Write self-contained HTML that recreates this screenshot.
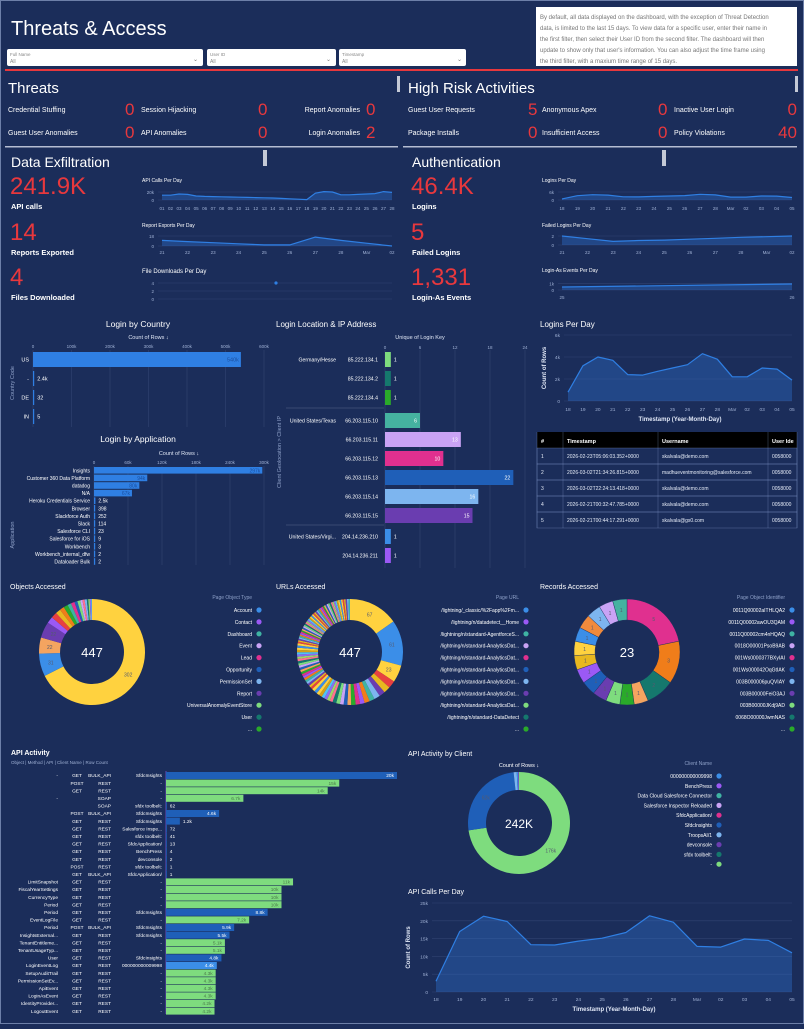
<!DOCTYPE html>
<html><head><meta charset="utf-8">
<style>
html,body{margin:0;padding:0;background:#1b2d5a;}
body{width:804px;height:1024px;overflow:hidden;font-family:"Liberation Sans",sans-serif;}
svg text{font-family:"Liberation Sans",sans-serif;}
</style></head>
<body>
<svg id="s" width="804" height="1024" viewBox="0 0 804 1024" xmlns="http://www.w3.org/2000/svg">
<rect x="0" y="0" width="804" height="1024" fill="#1b2d5a"/>
<rect x="0.5" y="0.5" width="803" height="1023" fill="none" stroke="#6d7fa8"/>
<text x="11" y="35" font-size="20" fill="#fff">Threats &amp; Access</text>
<g><rect x="7" y="49" width="196" height="17" rx="2" fill="#fff"/><text x="10" y="56" font-size="4.5" fill="#888">Full Name</text><text x="10" y="63" font-size="5" fill="#888">All</text><text x="193" y="61" font-size="6" fill="#777">⌄</text></g>
<g><rect x="207" y="49" width="129" height="17" rx="2" fill="#fff"/><text x="210" y="56" font-size="4.5" fill="#888">User ID</text><text x="210" y="63" font-size="5" fill="#888">All</text><text x="326" y="61" font-size="6" fill="#777">⌄</text></g>
<g><rect x="339" y="49" width="127" height="17" rx="2" fill="#fff"/><text x="342" y="56" font-size="4.5" fill="#888">Timestamp</text><text x="342" y="63" font-size="5" fill="#888">All</text><text x="457" y="61" font-size="6" fill="#777">⌄</text></g>
<g><rect x="536" y="7" width="261" height="59" fill="#fff"/>
<text font-size="6" fill="#777"><tspan x="540" y="19">By default, all data displayed on the dashboard, with the exception of Threat Detection</tspan><tspan x="540" y="30">data, is limited to the last 15 days. To view data for a specific user, enter their name in</tspan><tspan x="540" y="41">the first filter, then select their User ID from the second filter. The dashboard will then</tspan><tspan x="540" y="52">update to show only that user's information. You can also adjust the time frame using</tspan><tspan x="540" y="63">the third filter, with a maxium time range of 15 days.</tspan></text></g>
<rect x="5" y="69" width="793" height="2" fill="#e8383d"/>
<text x="8" y="93" font-size="15" fill="#fff">Threats</text>
<rect x="397" y="76" width="3" height="16" fill="#c4c9d6"/>
<text x="408" y="93" font-size="15" fill="#fff">High Risk Activities</text>
<rect x="795" y="76" width="3" height="16" fill="#c4c9d6"/>
<g id="metrics"></g>
<rect x="5" y="146" width="393" height="1.5" fill="#b5bdd2"/>
<rect x="403" y="146" width="394" height="1.5" fill="#b5bdd2"/>
<text x="11" y="167" font-size="14" fill="#fff">Data Exfiltration</text>
<rect x="263" y="150" width="4" height="16" fill="#c4c9d6"/>
<text x="412" y="167" font-size="14" fill="#fff">Authentication</text>
<rect x="662" y="150" width="4" height="16" fill="#c4c9d6"/>
<g id="kpis"></g>
<g id="charts"></g>
</svg>
<script>
// ===== data =====
const threatLabels=["Credential Stuffing","Session Hijacking","Report Anomalies","Guest User Anomalies","API Anomalies","Login Anomalies"];
const threatValues=[0,0,0,0,0,2];
const riskLabels=["Guest User Requests","Anonymous Apex","Inactive User Login","Package Installs","Insufficient Access","Policy Violations"];
const riskValues=[5,0,0,0,0,40];
const kpiValues=["241.9K","14","4","46.4K","5","1,331"];
const kpiLabels=["API calls","Reports Exported","Files Downloaded","Logins","Failed Logins","Login-As Events"];

const apiDays=["01","02","03","04","05","06","07","08","09","10","11","12","13","14","15","16","17","18","19","20","21","22","23","24","25","26","27","28"];
const apiDayValues=[12,12,15,14,10,9,8.5,8,7.5,7,6.5,6,5.5,5,4,3,2,1,17,21,20,13,13,14,15,16,21,19];
const exportDays=["21","22","23","24","25","26","27","28","Mar","02"];
const exportValues=[10,8,6,4,2,2,16,10,5,0];
const downloadDays=["a"];
const downloadValues=[4];
const loginDays=["18","19","20","21","22","23","24","25","26","27","28","Mar","02","03","04","05"];
const loginValues=[0.8,3.2,4.0,3.7,2.4,2.35,2.7,3.0,3.3,4.3,3.8,2.2,2.2,3.0,2.9,1.9];
const failedDays=["21","22","23","24","25","26","27","28","Mar","02"];
const failedValues=[2,1.4,0.8,1,1.1,1.3,1.5,1.7,1.85,2];
const loginAsDays=["25","26"];
const loginAsValues=[0.45,0.9];

const countries=["US","-","DE","IN"];
const countryValues=[540000,2400,32,5];
const countryPrinted=["540k","2.4k","32","5"];
const countryTicks=["0","100k","200k","300k","400k","500k","600k"];

const apps=["Insights","Customer 360 Data Platform","datadog","N/A","Heroku Credentials Service","Browser","Slackforce Auth","Slack","Salesforce CLI","Salesforce for iOS","Workbench","Workbench_internal_dfw","Dataloader Bulk"];
const appValues=[297000,94000,80000,67000,2500,398,252,114,23,9,3,2,2];
const appPrinted=["297k","94k","80k","67k","2.5k","398","252","114","23","9","3","2","2"];
const appTicks=["0","60k","120k","180k","240k","300k"];

const ipGroups=["Germany/Hesse","","","United States/Texas","","","","","","United States/Virgi...",""];
const ips=["85.222.134.1","85.222.134.2","85.222.134.4","66.203.115.10","66.203.115.11","66.203.115.12","66.203.115.13","66.203.115.14","66.203.115.15","204.14.236.210","204.14.236.211"];
const ipValues=[1,1,1,6,13,10,22,16,15,1,1];
const ipTicks=[0,6,12,18,24];

const objLabels=["Account","Contact","Dashboard","Event","Lead","Opportunity","PermissionSet","Report","UniversalAnomalyEventStore","User","..."];
const objValues=[302,31,22,22,9,8,7,6,6,5,5,4,4,3,3,3,2,2,2,1];
const urlLabels=["/lightning/_classic/%2Fapp%2Fm...","/lightning/n/datadetect__Home","/lightning/n/standard-AgentforceS...","/lightning/n/standard-AnalyticsDat...","/lightning/n/standard-AnalyticsDat...","/lightning/n/standard-AnalyticsDat...","/lightning/n/standard-AnalyticsDat...","/lightning/n/standard-AnalyticsDat...","/lightning/n/standard-AnalyticsDat...","/lightning/n/standard-DataDetect","..."];
const urlValues=[67,61,23,10,9,8,8,7,7,6,6,6,5,5,5,5,5,4,4,4,4,4,4,4,4,3,3,3,3,3,3,3,3,3,3,3,3,3,3,3,3,3,3,3,3,3,3,2,2,2,2,2,2,2,2,2,2,2,2,2,2,2,2,2,2,2,2,2,2,2,2,2,2,2,2,2,2,2,2,2,2,2,2,2,2,2,2,2,2,2,2,2,2,2,2,2];
const recLabels=["0011Q00002aITHLQA2","0011Q00002awOU3QAM","0011Q00002cm4nHQAQ","0018O00001PsoB9AB","001Ws0000377BXyIAI","001Ws000042OqGtIAK","003B000006puQVIAY","003B00000FeiO3AJ","003B00000JKdj9AD","0068O00000JwmNAS","..."];
const recValues=[5,3,2,1,1,1,1,1,1,1,1,1,1,1,1];
const clientLabels=["000000000009998","BenchPress","Data Cloud Salesforce Connector","Salesforce Inspector Reloaded","SfdcApplication/","SfdcInsights","TroopsAI/1","devconsole","sfdx toolbelt:","-"];
const clientValues=[176,62,2.4,1.2,0.3,0.2];
const clientPrinted=["176k","62k","","","",""];

const actObjects=["-","","","-","","","","","","","","","","","LimitSnapshot","FiscalYearSettings","CurrencyType","Period","Period","EventLogFile","Period","InsightsExternal...","TenantEntitleme...","TenantUsageTyp...","User","LoginEventLog","SetupAuditTrail","PermissionSetEv...","ApiEvent","LoginAsEvent","IdentityProvider...","LogoutEvent"];
const actMethods=["GET","POST","GET","","","POST","GET","GET","GET","GET","GET","GET","POST","GET","GET","GET","GET","GET","GET","GET","POST","GET","GET","GET","GET","GET","GET","GET","GET","GET","GET","GET"];
const actApis=["BULK_API","REST","REST","SOAP","SOAP","BULK_API","REST","REST","REST","REST","REST","REST","REST","BULK_API","REST","REST","REST","REST","REST","REST","BULK_API","REST","REST","REST","REST","REST","REST","REST","REST","REST","REST","REST"];
const actClients=["SfdcInsights","-","-","-","sfdx toolbelt:","SfdcInsights","SfdcInsights","Salesforce Inspe...","sfdx toolbelt:","SfdcApplication/","BenchPress","devconsole","sfdx toolbelt:","SfdcApplication/","-","-","-","-","SfdcInsights","-","SfdcInsights","SfdcInsights","-","-","SfdcInsights","000000000009998","-","-","-","-","-","-"];
const actValues=[20000,15000,14000,6700,62,4600,1200,72,41,13,4,2,1,1,11000,10000,10000,10000,8800,7200,5900,5500,5100,5100,4800,4400,4300,4300,4300,4300,4200,4200];
const actPrinted=["20k","15k","14k","6.7k","62","4.6k","1.2k","72","41","13","4","2","1","1","11k","10k","10k","10k","8.8k","7.2k","5.9k","5.5k","5.1k","5.1k","4.8k","4.4k","4.3k","4.3k","4.3k","4.3k","4.2k","4.2k"];

const dailyDays=["18","19","20","21","22","23","24","25","26","27","28","Mar","02","03","04","05"];
const dailyValues=[3,17,21.3,19.8,13.3,13.2,14.3,15.1,16.7,21.4,19.6,12.8,12.6,14.9,14.5,11];
const dailyTicks=[0,5,10,15,20,25];

const tableRows=[["1","2026-02-23T05:06:03.352+0000","skalvala@demo.com","0058000"],["2","2026-03-02T21:34:26.815+0000","madhueventmonitoring@salesforce.com","0058000"],["3","2026-03-02T22:24:13.418+0000","skalvala@demo.com","0058000"],["4","2026-02-21T00:32:47.785+0000","skalvala@demo.com","0058000"],["5","2026-02-21T00:44:17.291+0000","skalvala@gs0.com","0058000"]];

// ===== helpers =====
const NS="http://www.w3.org/2000/svg";
function mk(parent,tag,attrs,name,inter){
  const el=document.createElementNS(NS,tag);
  for(const k in attrs) el.setAttribute(k,attrs[k]);
  
  
  parent.appendChild(el);return el;
}
function T(p,x,y,s,size,fill,anchor,name,weight){
  const t=mk(p,'text',{x:x,y:y,'font-size':size,fill:fill||'#fff','text-anchor':anchor||'start','font-weight':weight||'normal'},name||'label',false);
  t.textContent=s;return t;
}
const charts=document.getElementById('charts');
const TICK='#9fb0d4', GRID='rgba(150,170,220,0.18)', LINE='#2f7fe3', AREA='rgba(50,120,220,0.35)';
const PAL=['#3b8ee8','#9b59f5','#3fb3a3','#c9a3f5','#e0308f','#1f5fb8','#7db5ef','#6a3db0','#7edc7e','#15786d','#2aaa2a','#ffd23f','#f4a460','#e84040','#f07d1a','#e8b820','#4fc3f7','#ff6f91','#a0d468','#8e6cf0'];

// metrics
const mg=document.getElementById('metrics');
const tLX=[8,141,360],tVX=[125,258,366],tAn=['start','start','end'];
threatLabels.forEach((l,i)=>{const r=Math.floor(i/3),c=i%3,y=r?135:112;
  T(mg,tLX[c],y,l,7,'#fff',tAn[c],'threat-metric-label');
  T(mg,tVX[c],y+3,threatValues[i],17,'#e8383d','start','threat-metric-value');});
const hLX=[408,542,674],hVX=[528,658,797];
riskLabels.forEach((l,i)=>{const r=Math.floor(i/3),c=i%3,y=r?135:112;
  T(mg,hLX[c],y,l,7,'#fff','start','risk-metric-label');
  T(mg,hVX[c],y+3,riskValues[i],17,'#e8383d',c==2?'end':'start','risk-metric-value');});

// kpis
const kg=document.getElementById('kpis');
kpiValues.forEach((v,i)=>{const x=i<3?10:411,y=[194,240,285][i%3];
  T(kg,x,y,v,24,'#e8383d','start','kpi-value');
  T(kg,x+1,y+15,kpiLabels[i],7.5,'#fff','start','kpi-label','bold');});

// sparkline/area chart
function area(cfg){
  const g=mk(charts,'g',{},cfg.name,false);
  if(cfg.title) T(g,cfg.x0,cfg.ty,cfg.title,cfg.tsize||5,'#fff','start',cfg.name+'-title');
  const n=cfg.labels.length;
  const xs=i=> n==1? (cfg.x0+cfg.x1)/2 : cfg.px0+(cfg.px1-cfg.px0)*i/(n-1);
  const ys=v=> cfg.y0-(cfg.y0-cfg.y1)*v/cfg.max;
  cfg.ticks.forEach((t,i)=>{const y=ys(cfg.tickVals[i]);
    mk(g,'line',{x1:cfg.px0-4,x2:cfg.px1,y1:y,y2:y,stroke:GRID,'stroke-width':0.6},'gridline',false);
    T(g,cfg.px0-8,y+2,t,cfg.fs||4.5,TICK,'end','y-tick');});
  if(cfg.dot){cfg.values.forEach((v,i)=>mk(g,'circle',{cx:cfg.dotX,cy:ys(v),r:1.6,fill:LINE},'data-point',false));return g;}
  let d='';cfg.values.forEach((v,i)=>{d+=(i?'L':'M')+xs(i).toFixed(1)+','+ys(v).toFixed(1);});
  mk(g,'path',{d:d+'L'+xs(n-1)+','+cfg.y0+'L'+xs(0)+','+cfg.y0+'Z',fill:AREA},'area-fill',false);
  mk(g,'path',{d:d,fill:'none',stroke:LINE,'stroke-width':cfg.lw||1.2,'stroke-linejoin':'round'},'series-line',false);
  cfg.labels.forEach((l,i)=>T(g,xs(i),cfg.ly,l,cfg.fs||4.5,TICK,'middle','x-tick'));
  if(cfg.xtitle) T(g,(cfg.px0+cfg.px1)/2,cfg.xty,cfg.xtitle,6,'#dfe6f5','middle','x-axis-title','bold');
  if(cfg.ytitle){const t=T(g,0,0,cfg.ytitle,6,'#dfe6f5','middle','y-axis-title','bold');t.setAttribute('transform','translate('+cfg.ytx+','+(cfg.y0+cfg.y1)/2+') rotate(-90)');}
  return g;
}
area({name:'api-calls-sparkline',title:'API Calls Per Day',x0:142,ty:182,labels:apiDays,values:apiDayValues,px0:162,px1:392,y0:200,y1:192,max:20,ticks:['20k','0'],tickVals:[20,0],ly:210});
area({name:'report-exports-sparkline',title:'Report Exports Per Day',x0:142,ty:227,labels:exportDays,values:exportValues,px0:162,px1:392,y0:246,y1:236,max:18,ticks:['18','0'],tickVals:[18,0],ly:254});
area({name:'file-downloads-sparkline',title:'File Downloads Per Day',tsize:6,x0:142,ty:273,labels:downloadDays,values:downloadValues,px0:162,px1:392,y0:299,y1:283,max:4,ticks:['4','2','0'],tickVals:[4,2,0],dot:true,dotX:276});
area({name:'logins-sparkline',title:'Logins Per Day',x0:542,ty:182,labels:loginDays,values:loginValues,px0:562,px1:792,y0:200,y1:192,max:6,ticks:['6k','0'],tickVals:[6,0],ly:210});
area({name:'failed-logins-sparkline',title:'Failed Logins Per Day',x0:542,ty:227,labels:failedDays,values:failedValues,px0:562,px1:792,y0:245,y1:236,max:2,ticks:['2','0'],tickVals:[2,0],ly:254});
area({name:'login-as-sparkline',title:'Login-As Events Per Day',x0:542,ty:272,labels:loginAsDays,values:loginAsValues,px0:562,px1:792,y0:290,y1:282,max:1.2,ticks:['1k','0'],tickVals:[1,0],ly:299});

// horizontal bar chart
function hbar(cfg){
  const g=mk(charts,'g',{},cfg.name,false);
  T(g,cfg.tx,cfg.ty,cfg.title,8.5,'#fff','middle',cfg.name+'-title');
  T(g,(cfg.px0+cfg.px1)/2,cfg.cy,'Count of Rows ↓',5.5,'#dfe6f5','middle','axis-title');
  const xs=v=>cfg.px0+(cfg.px1-cfg.px0)*v/cfg.max;
  cfg.ticks.forEach((t,i)=>{const x=cfg.px0+(cfg.px1-cfg.px0)*i/(cfg.ticks.length-1);
    mk(g,'line',{x1:x,x2:x,y1:cfg.gy0,y2:cfg.gy1,stroke:GRID,'stroke-width':0.6},'gridline',false);
    T(g,x,cfg.tky,t,4.5,TICK,'middle','x-tick');});
  cfg.cats.forEach((c,i)=>{const y=cfg.by+i*cfg.step,w=Math.max(xs(cfg.vals[i])-cfg.px0,1.2);
    T(g,cfg.px0-4,y+cfg.bh/2+2,c,cfg.fs,'#fff','end','category-label');
    mk(g,'rect',{x:cfg.px0,y:y,width:w,height:cfg.bh,fill:'#2f7fe3'},'bar-'+c,true);
    const inside=w>30;
    T(g,inside?cfg.px0+w-2:cfg.px0+w+3,y+cfg.bh/2+2,cfg.printed[i],cfg.fs,inside?'#1b4fa0':'#fff',inside?'end':'start','bar-value');});
  const t=T(g,0,0,cfg.ytitle,5.5,'#8ea0c8','middle','y-axis-title');t.setAttribute('transform','translate('+cfg.ytx+','+cfg.yty+') rotate(-90)');
}
hbar({name:'login-by-country',title:'Login by Country',tx:138,ty:327,cy:339,cats:countries,vals:countryValues,printed:countryPrinted,ticks:countryTicks,max:600000,px0:33,px1:264,tky:348,gy0:350,gy1:427,by:352,step:19,bh:15,fs:5.5,ytitle:'Country Code',ytx:14,yty:383});
hbar({name:'login-by-application',title:'Login by Application',tx:138,ty:442,cy:455,cats:apps,vals:appValues,printed:appPrinted,ticks:appTicks,max:300000,px0:94,px1:264,tky:464,gy0:466,gy1:565,by:467,step:7.6,bh:6.6,fs:5,ytitle:'Application',ytx:14,yty:535});

// login location & IP
(function(){
  const g=mk(charts,'g',{},'login-location-ip-chart',false);
  T(g,276,327,'Login Location & IP Address',8,'#fff','start','login-location-title');
  T(g,420,339,'Unique of Login Key',5.5,'#dfe6f5','middle','axis-title');
  const px0=385,px1=525,xs=v=>px0+(px1-px0)*v/24;
  ipTicks.forEach(t=>{mk(g,'line',{x1:xs(t),x2:xs(t),y1:350,y2:568,stroke:GRID,'stroke-width':0.6},'gridline',false);
    T(g,xs(t),349,t,4.5,TICK,'middle','x-tick');});
  const ys=[352,371,390,413,432,451,470,489,508,529,548];
  const cols=['#7edc7e','#15786d','#2aaa2a','#45b2a0','#c9a3f5','#e0308f','#1f5fb8','#7db5ef','#6a3db0','#3b8ee8','#9b59f5'];
  [408,525].forEach(y=>mk(g,'line',{x1:286,x2:384,y1:y,y2:y,stroke:'rgba(200,210,235,0.35)','stroke-width':0.6},'group-separator',false));
  ips.forEach((ip,i)=>{const y=ys[i],w=xs(ipValues[i])-px0;
    if(ipGroups[i]) T(g,336,y+9.5,ipGroups[i],5.2,'#fff','end','group-label');
    T(g,378,y+9.5,ip,5.2,'#fff','end','ip-label');
    mk(g,'rect',{x:px0,y:y,width:w,height:15,fill:cols[i]},'bar-'+ip,true);
    const inside=w>15;
    T(g,inside?px0+w-3:px0+w+3,y+9.5,ipValues[i],5.2,inside?'#fff':'#fff',inside?'end':'start','bar-value');});
  const t=T(g,0,0,'Client Geolocation > Client IP',5.5,'#8ea0c8','middle','y-axis-title');t.setAttribute('transform','translate(281,452) rotate(-90)');
})();

// logins per day
T(charts,540,327,'Logins Per Day',8,'#fff','start','logins-per-day-title');
area({name:'logins-per-day-chart',labels:loginDays,values:loginValues,px0:568,px1:792,y0:401,y1:335,max:6,ticks:['6k','4k','2k','0'],tickVals:[6,4,2,0],ly:411,fs:4.8,xtitle:'Timestamp (Year-Month-Day)',xty:421,ytitle:'Count of Rows',ytx:546,lw:1.2});

// table
(function(){
  const g=mk(charts,'g',{},'login-events-table',false);
  const cx=[537,563,658,768,797];
  mk(g,'rect',{x:537,y:432,width:260,height:16,fill:'#000'},'table-header',false);
  ['#','Timestamp','Username','User Ide'].forEach((h,i)=>T(g,cx[i]+4,443,h,5.5,'#fff','start','column-header','bold'));
  tableRows.forEach((r,j)=>{const y=448+j*16;
    mk(g,'rect',{x:537,y:y,width:260,height:16,fill:'none',stroke:'rgba(140,160,210,0.45)','stroke-width':0.6},'table-row',true);
    r.forEach((c,i)=>T(g,cx[i]+4,y+10,c,5,'#e6ecf8','start','table-cell'));});
  cx.forEach(x=>mk(g,'line',{x1:x,x2:x,y1:432,y2:528,stroke:'rgba(140,160,210,0.45)','stroke-width':0.6},'column-divider',false));
})();

// donuts
function donut(cfg){
  const g=mk(charts,'g',{},cfg.name,false);
  if(cfg.title) T(g,cfg.tx,cfg.ty,cfg.title,7,'#fff','start',cfg.name+'-title');
  const tot=cfg.values.reduce((a,b)=>a+b,0);let a0=0;
  cfg.values.forEach((v,i)=>{const a1=a0+v/tot*Math.PI*2;
    const P=(r,a)=>[cfg.cx+r*Math.sin(a),cfg.cy-r*Math.cos(a)];
    const [x1,y1]=P(cfg.R,a0),[x2,y2]=P(cfg.R,a1),[x3,y3]=P(cfg.r,a1),[x4,y4]=P(cfg.r,a0);
    const lg=(a1-a0)>Math.PI?1:0;
    mk(g,'path',{d:`M${x1},${y1}A${cfg.R},${cfg.R} 0 ${lg} 1 ${x2},${y2}L${x3},${y3}A${cfg.r},${cfg.r} 0 ${lg} 0 ${x4},${y4}Z`,fill:cfg.colors[i%cfg.colors.length],stroke:cfg.sep||'none','stroke-width':0.4},'slice',true);
    const lbl=cfg.printed?cfg.printed[i]:(v/tot>0.04?String(v):'');
    if(lbl){const am=(a0+a1)/2,rm=(cfg.R+cfg.r)/2;const [lx,ly]=P(rm,am);T(g,lx,ly+2,lbl,5,'#555a70','middle','slice-label');}
    a0=a1;});
  T(g,cfg.cx,cfg.cy+5,cfg.center,cfg.csize||13,'#fff','middle','donut-total');
  if(cfg.legendTitle) T(g,cfg.lx,cfg.ly-11,cfg.legendTitle,5,'#8ea0c8','end','legend-title');
  cfg.legend.forEach((l,i)=>{const y=cfg.ly+i*cfg.lstep;
    T(g,cfg.lx,y+2,l,5,'#fff','end','legend-entry');
    mk(g,'circle',{cx:cfg.lx+7,cy:y,r:2.6,fill:cfg.lcolors[i%cfg.lcolors.length]},'legend-swatch',true);});
}
const LC=['#3b8ee8','#9b59f5','#3fb3a3','#c9a3f5','#e0308f','#1f5fb8','#7db5ef','#6a3db0','#7edc7e','#15786d','#2aaa2a'];
const objCols=['#ffd23f','#3b8ee8','#f4a460','#6a3db0','#9b59f5','#e84040','#e8b820','#f07d1a','#2aaa2a','#3fb3a3','#e0308f','#1f5fb8','#7edc7e','#c9a3f5','#ff6f91','#7db5ef','#15786d','#a0d468','#8e6cf0','#4fc3f7'];
donut({name:'objects-accessed-donut',title:'Objects Accessed',tx:10,ty:589,cx:92,cy:652,R:53,r:32,values:objValues,colors:objCols,center:'447',legendTitle:'Page Object Type',legend:objLabels,lcolors:LC,lx:252,ly:610,lstep:11.9});
const urlCols=['#ffd23f','#3b8ee8','#ffd23f','#e84040','#e8b820','#6a3db0','#7db5ef','#3fb3a3','#f07d1a','#9b59f5','#e0308f','#2aaa2a','#f4a460','#1f5fb8','#c9a3f5','#7edc7e','#15786d','#ff6f91','#a0d468','#8e6cf0','#4fc3f7','#d4a017'];
donut({name:'urls-accessed-donut',title:'URLs Accessed',tx:276,ty:589,cx:350,cy:652,R:53,r:32,values:urlValues,colors:urlCols,center:'447',legendTitle:'Page URL',legend:urlLabels,lcolors:LC,lx:519,ly:610,lstep:11.9});
const recCols=['#e0308f','#f07d1a','#15786d','#f4a460','#2aaa2a','#7edc7e','#6a3db0','#1f5fb8','#9b59f5','#e8b820','#ffd23f','#3b8ee8','#f08a3c','#7db5ef','#c9a3f5','#45b2a0'];
donut({name:'records-accessed-donut',title:'Records Accessed',tx:540,ty:589,cx:627,cy:652,R:53,r:32,values:recValues.concat([1]),colors:recCols,center:'23',sep:'#1b2d5a',legendTitle:'Page Object Identifier',legend:recLabels,lcolors:LC,lx:785,ly:610,lstep:11.9});
donut({name:'api-activity-by-client-donut',title:'API Activity by Client',tx:408,ty:756,cx:519,cy:823,R:51,r:33,values:clientValues,printed:clientPrinted,colors:['#7edc7e','#1f5fb8','#7db5ef','#3b8ee8','#9b59f5','#e0308f'],center:'242K',csize:12,legendTitle:'Client Name',legend:clientLabels,lcolors:['#3b8ee8','#9b59f5','#3fb3a3','#c9a3f5','#e0308f','#1f5fb8','#7db5ef','#6a3db0','#15786d','#7edc7e'],lx:712,ly:776,lstep:9.8});
T(charts,519,767,'Count of Rows ↓',5.5,'#fff','middle','axis-title');

// API activity
(function(){
  const g=mk(charts,'g',{},'api-activity-chart',false);
  T(g,11,755,'API Activity',7,'#fff','start','api-activity-title','bold');
  T(g,11,764,'Object | Method | API | Client Name | Row Count',4.5,'#9fb0d4','start','api-activity-subtitle');
  const px0=166,xs=v=>(397-px0)*v/20000;
  mk(g,'line',{x1:px0,x2:px0,y1:771,y2:1014,stroke:'#7c4fd0','stroke-width':0.8},'axis-line',false);
  actValues.forEach((v,i)=>{const y=772+i*7.6,cy=y+5.2;
    T(g,58,cy,actObjects[i],4.8,'#fff','end','object-label');
    T(g,77,cy,actMethods[i],4.8,'#fff','middle','method-label');
    T(g,111,cy,actApis[i],4.8,'#fff','end','api-label');
    T(g,162,cy,actClients[i],4.8,'#fff','end','client-label');
    const c=actClients[i],col=c=='-'?'#7edc7e':(c=='000000000009998'?'#3b8ee8':'#1f5fb8');
    const w=Math.max(xs(v),0.8);
    mk(g,'rect',{x:px0,y:y,width:w,height:7,fill:col},'bar-'+i,true);
    const inside=w>20;
    T(g,inside?px0+w-3:px0+w+3,cy,actPrinted[i],4.8,inside?(col=='#7edc7e'?'#4a7a4a':'#fff'):'#fff',inside?'end':'start','bar-value');});
})();

// API calls per day
T(charts,408,894,'API Calls Per Day',7,'#fff','start','api-calls-per-day-title');
area({name:'api-calls-per-day-chart',labels:dailyDays,values:dailyValues,px0:436,px1:792,y0:992,y1:903,max:25,ticks:dailyTicks.map(t=>t?t+'k':'0'),tickVals:dailyTicks,ly:1001,fs:4.8,xtitle:'Timestamp (Year-Month-Day)',xty:1011,ytitle:'Count of Rows',ytx:410,lw:1.2});
</script>
</body></html>
